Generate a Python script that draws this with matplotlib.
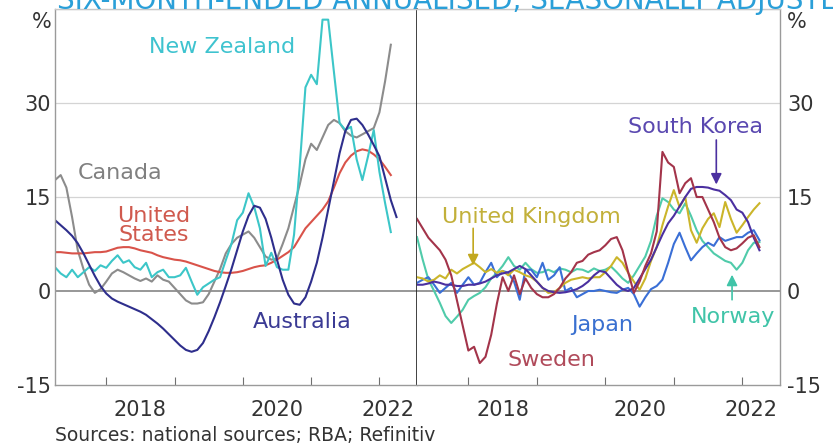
#%%
import numpy as np
import matplotlib
matplotlib.use('Agg')
import matplotlib.pyplot as plt

# six-month-ended annualised, % ; monthly from Apr 2017
START = 2017.25

canada = [17.7, 18.5, 16.5, 11.8, 6.5, 3.5, 1.0, -0.3, 0.3,
          1.5, 2.8, 3.4, 3.0, 2.5, 2.0, 1.6, 2.0, 1.5, 2.5, 1.8, 1.5,
          0.5, -0.5, -1.5, -2.0, -2.0, -1.8, -0.5, 1.5, 3.5, 6.0, 7.5, 8.5,
          9.0, 9.5, 8.5, 7.0, 5.5, 5.0, 5.2, 7.5, 10.0, 13.5, 17.0, 21.0,
          23.5, 22.5, 24.5, 26.5, 27.3, 26.8, 25.5, 24.8, 24.5, 25.0, 25.5, 26.0,
          28.5, 33.5, 39.3]
united_states = [6.2, 6.2, 6.1, 6.0, 6.0, 6.0, 6.1, 6.2, 6.2,
                 6.3, 6.6, 6.9, 7.0, 7.0, 6.8, 6.5, 6.3, 6.1, 5.7, 5.4, 5.2,
                 5.0, 4.9, 4.7, 4.4, 4.1, 3.8, 3.5, 3.2, 3.0, 2.9, 2.9, 3.0,
                 3.2, 3.5, 3.8, 4.0, 4.1, 4.5, 5.0, 5.6, 6.2, 7.0, 8.5, 10.0,
                 11.0, 12.0, 13.0, 14.3, 16.5, 18.8, 20.5, 21.6, 22.3, 22.6, 22.4, 21.8,
                 21.0, 19.8, 18.5]
new_zealand = [3.8, 2.8, 2.2, 3.4, 2.2, 3.0, 3.8, 3.2, 4.1,
               3.7, 4.8, 5.7, 4.5, 4.9, 3.8, 3.4, 4.5, 2.2, 3.0, 3.4, 2.2,
               2.2, 2.5, 3.7, 1.5, -0.6, 0.6, 1.2, 1.8, 2.2, 4.9, 7.5, 11.3,
               12.5, 15.6, 13.4, 10.0, 4.0, 6.1, 3.8, 3.4, 3.4, 9.0, 20.0, 32.5,
               34.5, 33.0, 43.3, 43.3, 35.0, 26.8, 25.7, 26.2, 21.0, 17.7, 21.5, 25.7,
               19.0, 14.0, 9.4]
australia = [11.3, 10.5, 9.7, 8.8, 7.6, 6.0, 4.2, 2.4, 0.8,
             -0.4, -1.2, -1.7, -2.1, -2.5, -2.9, -3.3, -3.8, -4.5, -5.2, -6.0, -6.9,
             -7.8, -8.7, -9.4, -9.7, -9.4, -8.3, -6.4, -4.2, -1.8, 0.8, 3.5, 6.5,
             9.5, 12.0, 13.6, 13.3, 11.5, 8.5, 5.0, 1.8, -0.6, -2.0, -2.2, -1.0,
             1.5, 4.5, 8.5, 13.0, 17.5, 22.0, 25.5, 27.3, 27.5, 26.5, 25.0, 23.3,
             21.5, 18.0, 14.5, 11.8]

sweden = [11.5, 10.0, 8.5, 7.5, 6.5, 5.0, 2.5, -1.5, -5.5,
          -9.5, -8.9, -11.5, -10.5, -7.0, -2.0, 2.2, 0.0, 2.5, -0.5, 2.0, 0.5,
          -0.5, -1.0, -1.0, -0.5, 0.5, 2.0, 3.0, 4.5, 4.8, 5.8, 6.2, 6.5,
          7.3, 8.3, 8.6, 6.5, 3.0, -0.3, 1.5, 4.0, 6.0, 9.5, 22.2, 20.5,
          19.8, 15.6, 17.2, 18.0, 15.0, 15.0, 13.0, 11.0, 8.5, 7.0, 6.5, 6.8,
          7.6, 8.5, 8.9, 7.0]
united_kingdom = [2.2, 2.0, 1.5, 1.8, 2.5, 2.0, 3.4, 2.8, 3.5,
                  4.0, 4.5, 3.8, 3.0, 3.5, 2.9, 3.2, 2.5, 3.4, 3.0, 2.5, 2.2,
                  1.5, 0.5, -0.3, -0.2, 0.5, 1.3, 1.8, 2.0, 2.2, 2.0, 2.2, 2.2,
                  3.0, 4.0, 5.4, 4.5, 2.9, 1.5, 0.2, 2.0, 4.8, 7.0, 10.5, 13.5,
                  16.1, 13.4, 15.0, 9.7, 7.7, 10.0, 11.5, 12.4, 10.2, 14.2, 11.5, 9.3,
                  10.5, 11.8, 13.0, 14.0]
japan = [1.3, 1.8, 2.2, 1.0, -0.3, 0.5, 1.3, -0.3, 1.0,
         2.2, 1.0, 1.3, 3.0, 4.5, 2.2, 3.2, 2.9, 1.5, -1.4, 3.4, 3.4,
         2.2, 4.5, 1.8, 2.5, 3.8, 0.0, 0.5, -1.0, -0.5, 0.0, 0.0, 0.2,
         0.0, -0.2, -0.3, 0.2, 0.5, -0.5, -2.5, -1.0, 0.3, 0.8, 1.8, 4.5,
         7.5, 9.3, 7.0, 4.9, 6.0, 7.0, 7.7, 7.2, 8.6, 8.0, 8.3, 8.6,
         8.6, 9.3, 9.7, 8.1]
norway = [8.6, 5.0, 1.8, 0.0, -1.9, -4.0, -5.1, -4.1, -3.0,
          -1.4, -0.8, -0.3, 0.6, 2.0, 2.9, 4.0, 5.4, 4.0, 3.4, 4.5, 3.5,
          2.9, 3.0, 3.4, 3.0, 3.6, 3.4, 3.0, 3.5, 3.4, 3.0, 3.6, 3.2,
          3.4, 3.9, 3.0, 2.0, 1.3, 2.5, 4.0, 5.5, 8.0, 12.0, 14.8, 14.2,
          13.0, 12.4, 14.0, 12.0, 9.7, 8.0, 7.0, 6.0, 5.4, 4.8, 4.5, 3.4,
          4.5, 6.5, 7.7, 7.8]
south_korea = [1.0, 1.0, 1.2, 1.5, 1.3, 1.0, 1.0, 0.8, 0.8,
               1.0, 1.0, 1.2, 1.5, 2.0, 2.5, 2.8, 3.0, 3.5, 4.0, 3.5, 2.5,
               1.5, 0.5, 0.0, -0.2, -0.3, -0.2, 0.0, 0.3, 0.8, 1.5, 2.5, 3.2,
               3.0, 2.0, 1.0, 0.3, 0.0, 0.5, 2.0, 3.5, 5.0, 7.0, 9.0, 10.8,
               12.0, 13.5, 15.0, 16.3, 16.6, 16.6, 16.5, 16.2, 16.0, 15.3, 14.5, 13.0,
               12.5, 11.0, 8.5, 6.5]

yticks = [-15, 0, 15, 30]
year_ticks = [2018, 2019, 2020, 2021, 2022]
year_labels = ['2018', '2020', '2022']

def months(vals):
    return START + np.arange(len(vals)) / 12

#%%
plt.rcParams['font.family'] = 'DejaVu Sans'
fig = plt.figure(figsize=(8.33, 4.44), dpi=100)
axL = fig.add_axes([55/833, 1 - 385/444, 362/833, 376/444])
axR = fig.add_axes([417/833, 1 - 385/444, 363/833, 376/444])

left = [(canada, '#8c8c8c'), (united_states, '#d9534a'),
        (new_zealand, '#3cc6c8'), (australia, '#2e2e8c')]
right = [(norway, '#50cbaa'), (japan, '#3a6fd6'), (united_kingdom, '#cbb52a'),
         (south_korea, '#4b30a0'), (sweden, '#a3344a')]

tfs = 15
for ax, series in [(axL, left), (axR, right)]:
    ax.set_xlim(2017.25, 2022.55)
    ax.set_ylim(-15, 45)
    for v in [15, 30, 45]:
        ax.axhline(v, color='#d4d4d4', lw=0.9, zorder=0)
    ax.axhline(0, color='#8f8f8f', lw=1.3, zorder=1)
    for vals, c in series:
        ax.plot(months(vals), vals, color=c, lw=1.5, zorder=2)
    ax.set_xticks(year_ticks)
    ax.set_xticklabels([])
    ax.tick_params(axis='x', which='major', direction='in', length=6, color='#707070')
    ax.set_xticks([2018.5, 2020.5, 2022.12], minor=True)
    ax.set_xticklabels(year_labels, minor=True)
    ax.tick_params(axis='x', which='minor', length=0, pad=11, labelsize=tfs,
                   labelcolor='#333333')
    ax.set_yticks(yticks)
    for s in ax.spines.values():
        s.set_color('#9a9a9a')
        s.set_linewidth(1.0)
    ax.spines['top'].set_color('#c8c8c8')

axL.set_yticklabels([str(t) for t in yticks])
axL.tick_params(axis='y', length=0, pad=3, labelsize=tfs, labelcolor='#333333')
axL.spines['right'].set_color('#202020')
axL.spines['right'].set_linewidth(1.2)
axR.yaxis.tick_right()
axR.set_yticklabels([str(t) for t in yticks])
axR.tick_params(axis='y', length=0, pad=5, labelsize=tfs, labelcolor='#333333')
axR.spines['left'].set_visible(False)

axL.text(-0.008, 42.9, '%', transform=axL.get_yaxis_transform(), ha='right',
         va='center', fontsize=tfs, color='#333333')
axR.text(1.018, 42.9, '%', transform=axR.get_yaxis_transform(), ha='left',
         va='center', fontsize=tfs, color='#333333')

#%% labels
fs = 16
axL.text(2019.70, 38.9, 'New Zealand', color='#3ec3cf', fontsize=fs, ha='center', va='center')
axL.text(2018.20, 18.8, 'Canada', color='#808080', fontsize=fs, ha='center', va='center')
axL.text(2018.70, 10.5, 'United\nStates', color='#d05a4e', fontsize=fs, ha='center',
         va='center', linespacing=0.95)
axL.text(2020.87, -4.9, 'Australia', color='#3a3a94', fontsize=fs, ha='center', va='center')

axR.text(2018.92, 11.8, 'United Kingdom', color='#c2b03a', fontsize=fs, ha='center', va='center')
axR.text(2021.31, 26.2, 'South Korea', color='#5a48b0', fontsize=fs, ha='center', va='center')
axR.text(2019.96, -5.4, 'Japan', color='#3a70d0', fontsize=fs, ha='center', va='center')
axR.text(2019.21, -11.0, 'Sweden', color='#b04a5a', fontsize=fs, ha='center', va='center')
axR.text(2021.87, -4.1, 'Norway', color='#40c4a8', fontsize=fs, ha='center', va='center')

arrow = dict(arrowstyle='-|>', lw=1.2, mutation_scale=16, shrinkA=0, shrinkB=0)
axR.annotate('', xy=(2018.07, 4.1), xytext=(2018.07, 10.0),
             arrowprops=dict(arrow, color='#c2a820'))
axR.annotate('', xy=(2021.62, 17.0), xytext=(2021.62, 24.1),
             arrowprops=dict(arrow, color='#4b30a0'))
axR.annotate('', xy=(2021.85, 2.6), xytext=(2021.85, -1.4),
             arrowprops=dict(arrow, color='#40c4a8'))

# title sits mostly above the canvas, as in the source crop
fig.text(57/833, 1 - 9/444, 'SIX-MONTH-ENDED ANNUALISED, SEASONALLY ADJUSTED',
         fontsize=20, color='#2a9fd8', ha='left', va='baseline')
fig.text(55/833, 1 - 435/444, 'Sources: national sources; RBA; Refinitiv',
         fontsize=13.5, color='#333333', ha='left', va='center')

fig.savefig('out.png', dpi=100)
